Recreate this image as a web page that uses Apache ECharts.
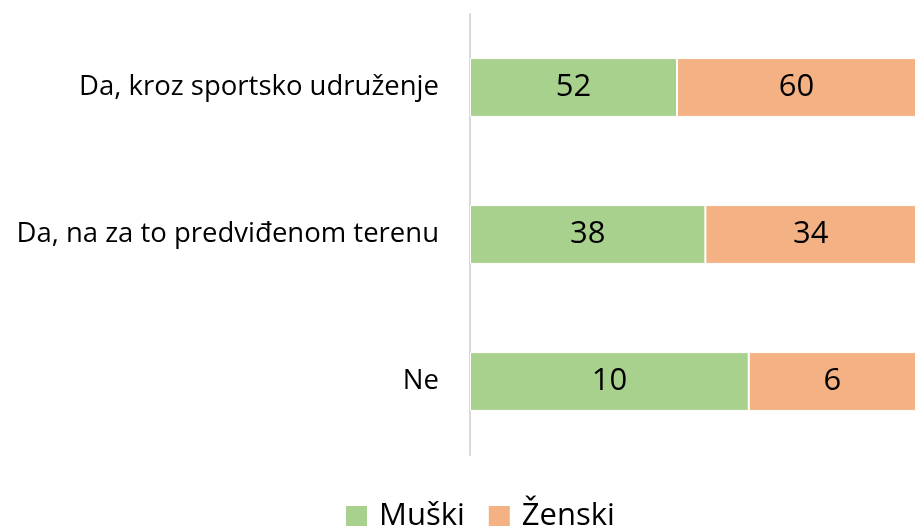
<!DOCTYPE html>
<html>
<head>
<meta charset="utf-8">
<script src="https://cdn.jsdelivr.net/npm/echarts@6/dist/echarts.min.js"></script>
<style>
  html, body { margin: 0; padding: 0; background: #fff; }
  #chart { width: 916px; height: 526px; }
</style>
</head>
<body>
<div id="chart"></div>
<script>
// podaci
var categories = ['Da, kroz sportsko udruženje', 'Da, na za to predviđenom terenu', 'Ne'];
var muski = [52, 38, 10];
var zenski = [60, 34, 6];
var seriesNames = ['Muški', 'Ženski'];

var myChart = echarts.init(document.getElementById('chart'));

// 100% stacked - udio u zbiru reda
function share(vals, i) {
    var total = muski[i] + zenski[i];
    return vals[i] / total * 100;
}

function makeData(vals) {
    return vals.map(function(v, i) {
        return { value: share(vals, i), raw: v };
    });
}

var labelOpt = {
    show: true,
    position: 'inside',
    color: '#000',
    fontSize: 31,
    fontFamily: 'Open Sans',
    formatter: function(p) { return p.data.raw; }
};

var option = {
    animation: false,
    textStyle: { fontFamily: 'Open Sans' },
    grid: {
        left: 470,
        top: 14,
        bottom: 71,
        width: 450
    },
    legend: {
        data: seriesNames,
        left: 341,
        top: 496,
        itemWidth: 21,
        itemHeight: 21,
        itemGap: 24,
        icon: 'rect',
        itemStyle: { borderWidth: 0 },
        textStyle: { fontSize: 31, color: '#000', fontFamily: 'Open Sans', padding: [9, 0, 0, 7] }
    },
    xAxis: {
        type: 'value',
        min: 0,
        max: 100,
        show: false
    },
    yAxis: {
        type: 'category',
        data: categories,
        inverse: true,
        axisLine: { lineStyle: { color: '#D9D9D9', width: 2 } },
        axisTick: { show: false },
        axisLabel: { color: '#000', fontSize: 27.5, margin: 31, fontFamily: 'Open Sans' }
    },
    series: [
        {
            name: seriesNames[0],
            type: 'bar',
            stack: 'a',
            barWidth: '40%',
            data: makeData(muski),
            itemStyle: { color: '#A9D18E', borderColor: '#fff', borderWidth: 1 },
            label: labelOpt
        },
        {
            name: seriesNames[1],
            type: 'bar',
            stack: 'a',
            data: makeData(zenski),
            itemStyle: { color: '#F4B183', borderColor: '#fff', borderWidth: 1 },
            label: labelOpt
        }
    ]
};

myChart.setOption(option);
window.addEventListener('resize', function() {
    myChart.resize();
});
</script>
</body>
</html>
